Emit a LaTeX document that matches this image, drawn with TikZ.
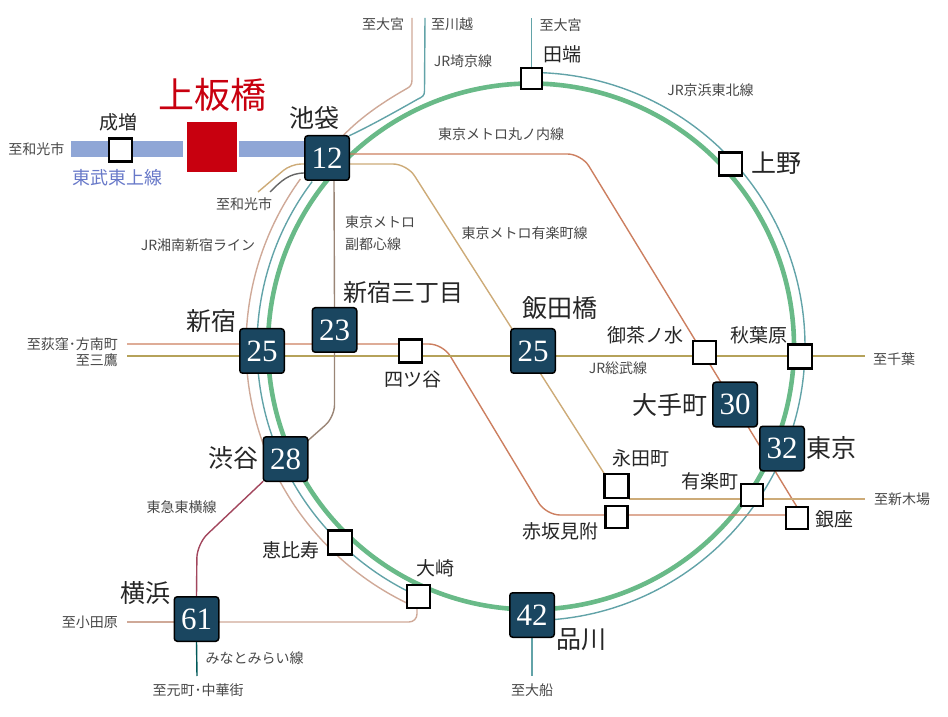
\documentclass[tikz,border=0pt]{standalone}
\usepackage{fontspec}
\setmainfont{Liberation Serif}
\newfontfamily\jpfont{Noto Sans CJK JP}
\usetikzlibrary{backgrounds,calc}
\definecolor{darkbox}{HTML}{1A4660}
\definecolor{kamicol}{HTML}{C8000F}
\definecolor{yamacol}{HTML}{69BA88}
\definecolor{tealcol}{HTML}{62A3A8}
\definecolor{pinkcol}{HTML}{CFA998}
\definecolor{marucol}{HTML}{CC7F60}
\definecolor{yuracol}{HTML}{CDAB78}
\definecolor{sobucol}{HTML}{B5A25A}
\definecolor{fukucol}{HTML}{9A8576}
\definecolor{tobucol}{HTML}{8FA6D6}
\tikzset{
	numbox/.style={draw=black,fill=darkbox,line width=1.5pt,rounded corners=3pt,minimum size=44.5pt,inner sep=0pt,outer sep=0pt,text=white,font=\fontsize{31}{31}\selectfont},
	whitebox/.style={draw=black,fill=white,line width=2.2pt,minimum size=#1,inner sep=0pt,outer sep=0pt},
	whitebox/.default=23pt,
	bigtxt/.style={inner sep=0pt,text=black!85,font=\jpfont\fontsize{25}{25}\selectfont},
	midtxt/.style={inner sep=0pt,text=black!85,font=\jpfont\fontsize{19}{19}\selectfont},
	smalltxt/.style={inner sep=0pt,text=black!72,font=\jpfont\fontsize{14}{22}\selectfont},
	railline/.style={line width=1.4pt,line join=round},
}
\begin{document}
\begin{tikzpicture}[x=1pt,y=1pt]
	\useasboundingbox (0,0) rectangle (948,716);
	\coordinate (cen) at (531,369.5);
	
	% stations
	\node[draw=none,fill=kamicol,minimum size=50pt,inner sep=0pt,outer sep=0pt] (kamiita) at (211.5,569){};
	\node[whitebox] (narimasu) at (120.5,566){};
	\node[numbox] (ikebukuro) at (327,558){12};
	\node[whitebox=21pt] (tabata) at (531.5,637.5){};
	\node[whitebox] (ueno) at (730.5,552){};
	\node[numbox] (shinjuku) at (262,365){25};
	\node[numbox] (sanchome) at (334.5,386){23};
	\node[whitebox] (yotsuya) at (410.5,365){};
	\node[numbox] (shibuya) at (285.5,257){28};
	\node[whitebox=24pt] (ebisu) at (340,173.5){};
	\node[whitebox] (osaki) at (418.5,119.5){};
	\node[numbox] (yokohama) at (196.5,97){61};
	\node[numbox] (shinagawa) at (532,101){42};
	\node[numbox] (iidabashi) at (533,365){25};
	\node[whitebox] (ochanomizu) at (704.5,363.5){};
	\node[whitebox=24pt] (akihabara) at (800,359.5){};
	\node[numbox] (otemachi) at (735,311.5){30};
	\node[numbox] (tokyo) at (782,267.5){32};
	\node[whitebox=24pt] (nagatacho) at (616.5,230){};
	\node[whitebox=22pt] (akasaka) at (616.5,199){};
	\node[whitebox=22pt] (yurakucho) at (752,221){};
	\node[whitebox=22pt] (ginza) at (797,198){};
	
	% line ends
	\coordinate (wako) at (71,567);
	\coordinate (omiya) at (412,698);
	\coordinate (kawagoe) at (425,698);
	\coordinate (omiyatwo) at (531.5,698);
	\coordinate (wakotan) at (258,524);
	\coordinate (wakogray) at (270,524);
	\coordinate (ogikubo) at (127,372);
	\coordinate (mitaka) at (127,360);
	\coordinate (chiba) at (865,360);
	\coordinate (shinkiba) at (865,217);
	\coordinate (odawara) at (127,94);
	\coordinate (motomachi) at (197,40);
	\coordinate (ofuna) at (532,40);
	
	\begin{scope}[on background layer]
		\draw[yamacol,line width=4.6pt] (cen) circle (263);
		\draw[tealcol,railline] ($(cen)+(0,274)$) arc (90:-90:274);
		\draw[tealcol,railline] ($(cen)+(143:274)$) arc (143:245:274);
		\draw[pinkcol,railline] ($(cen)+(144:285)$) arc (144:245:285);
		
		\draw[tealcol,railline] (tabata.north) -- (omiyatwo);
		\draw[tealcol,railline] (shinagawa.south) -- (ofuna);
		\draw[tealcol,railline] (kawagoe) -- (424.5,625) .. controls (424.5,620) and (422,619) .. (418,617) .. controls (395,604) and (370,590) .. (ikebukuro.north east);
		\draw[pinkcol,railline] (omiya) -- (412,636) .. controls (412,631) and (410,629) .. (406,627) .. controls (385,615) and (362,600) .. ([xshift=16pt]ikebukuro.north);
		
		\draw[marucol,railline,rounded corners=14pt] ([yshift=4pt]ikebukuro.east) -- (581.5,562) -- (ginza.north);
		\draw[marucol,railline,rounded corners=14pt] (ogikubo) -- (443,372) -- (546,201) -- ([yshift=3pt]ginza.west);
		\draw[sobucol,railline] (mitaka) -- (chiba);
		\draw[yuracol,railline,rounded corners=14pt] ([yshift=-6pt]ikebukuro.east) -- (407,552) -- ([xshift=-12pt]nagatacho.north);
		\draw[yuracol,railline] (shinkiba -| nagatacho.east) -- (shinkiba);
		\draw[yuracol,railline,rounded corners=10pt] ([yshift=-6pt]ikebukuro.west) -- (291,552) -- (wakotan);
		\draw[black!60,railline] ([yshift=-15pt]ikebukuro.west) to[out=180,in=45] (wakogray);
		
		\draw[fukucol,railline] ([xshift=7pt]ikebukuro.south) -- (sanchome.north);
		\draw[fukucol,railline,rounded corners=12pt] (sanchome.south) -- (334.5,299) -- ([yshift=-4pt]shibuya.north east);
		\draw[violet!45!brown,railline,rounded corners=14pt] (shibuya.south west) -- (197,172) -- (yokohama.north);
		\draw[teal!70!black,railline] (yokohama.south) -- (motomachi);
		\draw[pinkcol,railline] (odawara) -- ([yshift=-3pt]yokohama.west);
		\draw[pinkcol,railline,rounded corners=8pt] ([yshift=-3pt]yokohama.east) -- (417,94) -- ([xshift=-1.5pt]osaki.south);
		
		\draw[tobucol,line width=16pt] (wako) -- (183,567);
		\draw[tobucol,line width=16pt] (239,567) -- (wako -| ikebukuro.west);
	\end{scope}
	
	% station names
	\node[inner sep=0pt,text=kamicol,font=\jpfont\fontsize{36}{36}\selectfont] (lblkamiita) at (212,621){上板橋};
	\node[midtxt] (lblnarimasu) at (118.5,594){成増};
	\node[bigtxt] (lblikebukuro) at (314,598){池袋};
	\node[midtxt] (lbltabata) at (562,662){田端};
	\node[bigtxt] (lblueno) at (776,553){上野};
	\node[bigtxt,font=\jpfont\fontsize{24}{24}\selectfont] (lblsanchome) at (403,424){新宿三丁目};
	\node[bigtxt] (lbliidabashi) at (559.5,408){飯田橋};
	\node[bigtxt] (lblshinjuku) at (211,395){新宿};
	\node[midtxt] (lblyotsuya) at (412.5,337){四ツ谷};
	\node[bigtxt] (lblshibuya) at (233,258){渋谷};
	\node[midtxt] (lblebisu) at (291,166){恵比寿};
	\node[midtxt] (lblosaki) at (435,148){大崎};
	\node[bigtxt] (lblyokohama) at (145,123){横浜};
	\node[midtxt] (lblochanomizu) at (645,381){御茶ノ水};
	\node[midtxt] (lblakihabara) at (759,381){秋葉原};
	\node[bigtxt] (lblotemachi) at (670,311){大手町};
	\node[bigtxt] (lbltokyo) at (831,268){東京};
	\node[midtxt] (lblnagatacho) at (641,258){永田町};
	\node[midtxt] (lblyurakucho) at (710,235){有楽町};
	\node[midtxt] (lblginza) at (834,197){銀座};
	\node[midtxt] (lblakasaka) at (560,185){赤坂見附};
	\node[bigtxt] (lblshinagawa) at (581,76){品川};
	
	% line names and directions
	\node[smalltxt] (toomiya) at (383,692){至大宮};
	\node[smalltxt] (tokawagoe) at (452,692){至川越};
	\node[smalltxt] (lblsaikyo) at (463,655){JR埼京線};
	\node[smalltxt] (toomiyatwo) at (560.5,691){至大宮};
	\node[smalltxt] (lblkeihin) at (710.5,626){JR京浜東北線};
	\node[smalltxt] (lblmaru) at (501,582){東京メトロ丸ノ内線};
	\node[smalltxt,anchor=west,align=left] (lblfuku) at (345,483){東京メトロ\\副都心線};
	\node[smalltxt] (lblyura) at (524.5,483){東京メトロ有楽町線};
	\node[smalltxt] (towako) at (36.5,567){至和光市};
	\node[inner sep=0pt,text=tobucol!80!blue!90!black,font=\jpfont\fontsize{18}{18}\selectfont] (lbltobu) at (117,538){東武東上線};
	\node[smalltxt] (towakotwo) at (244,512){至和光市};
	\node[smalltxt] (lblshonan) at (198,471){JR湘南新宿ライン};
	\node[smalltxt,anchor=east] (toogikubo) at (118,372){至荻窪･方南町};
	\node[smalltxt,anchor=east] (tomitaka) at (118,356){至三鷹};
	\node[smalltxt] (lbltoyoko) at (181.5,209){東急東横線};
	\node[smalltxt,anchor=east] (toodawara) at (118,94){至小田原};
	\node[smalltxt] (lblminato) at (254.5,58){みなとみらい線};
	\node[smalltxt] (tomotomachi) at (198,26){至元町･中華街};
	\node[smalltxt] (lblsobu) at (618,348){JR総武線};
	\node[smalltxt] (tochiba) at (894,357){至千葉};
	\node[smalltxt] (toshinkiba) at (902,217){至新木場};
	\node[smalltxt] (toofuna) at (532,26){至大船};
\end{tikzpicture}
\end{document}
